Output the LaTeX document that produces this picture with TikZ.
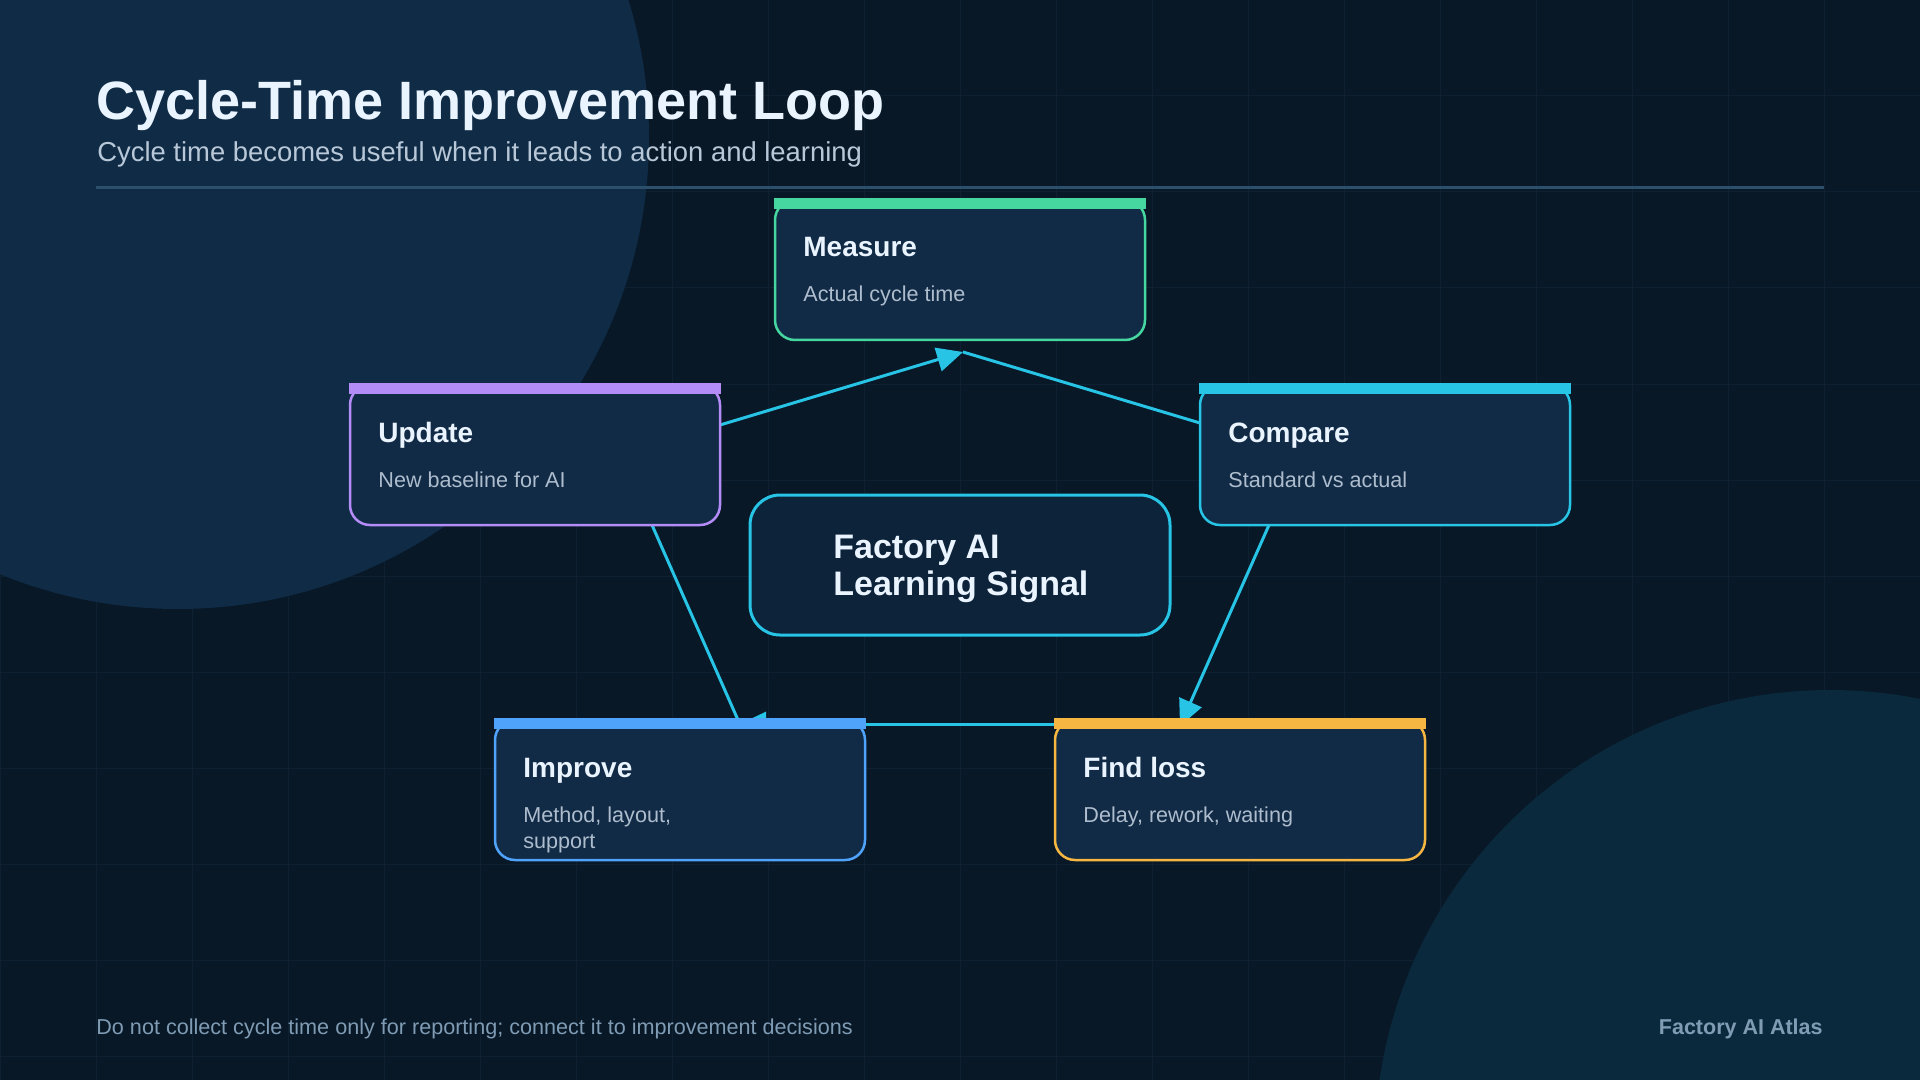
\documentclass[tikz,border=0pt]{standalone}
\usepackage{fontspec}
\setmainfont{Liberation Sans}
\usetikzlibrary{arrows.meta,calc}

\definecolor{bgcol}{HTML}{081827}
\definecolor{gridcol}{HTML}{0D2133}
\definecolor{blobcol}{HTML}{0F2B45}
\definecolor{blobcolb}{HTML}{0A293D}
\definecolor{rulecol}{HTML}{2C4F6B}
\definecolor{boxfill}{HTML}{112A45}
\definecolor{hubfill}{HTML}{0D233A}
\definecolor{titlecol}{HTML}{EAF4FF}
\definecolor{subcol}{HTML}{ADBDCD}
\definecolor{headcol}{HTML}{B8C8D8}
\definecolor{footcol}{HTML}{7F9CB4}
\definecolor{flowcol}{HTML}{27C4E6}
\definecolor{measurecol}{HTML}{46D69F}
\definecolor{comparecol}{HTML}{27C4E6}
\definecolor{findcol}{HTML}{F5B642}
\definecolor{improvecol}{HTML}{50A3FB}
\definecolor{updatecol}{HTML}{B48CF7}

\pgfdeclarelayer{back}
\pgfdeclarelayer{wires}
\pgfsetlayers{back,wires,main}

\tikzset{
  stepbox/.style={draw, line width=1.25pt, rounded corners=10pt, fill=boxfill,
    minimum width=185pt, minimum height=70pt, inner sep=0pt, outer sep=0pt},
  boxtitle/.style={anchor=base west, inner sep=0pt, text=titlecol,
    font=\fontsize{14}{17}\selectfont\bfseries},
  boxsub/.style={anchor=base west, inner sep=0pt, text=subcol, align=left,
    font=\fontsize{10.8}{13}\selectfont},
  flow/.style={draw=flowcol, line width=1.5pt},
  flowtip/.style={flow, -{Triangle[length=13pt,width=12pt]}},
}

\begin{document}
\begin{tikzpicture}[x=0.5pt,y=0.5pt,yscale=-1,xscale=1]
\useasboundingbox (0,0) rectangle (1920,1080);

\begin{pgfonlayer}{back}
%Background and grid
\fill [bgcol] (0,0) rectangle (1920,1080);
\draw [gridcol, line width=0.5pt] (0,0) grid [step=48pt] (1920,1080);
\begin{scope}
\clip (0,0) rectangle (1920,1080);
%Shape: Circle
\fill [blobcol] (178,138) circle [radius=471];
%Shape: Circle
\fill [blobcolb] (1830,1145) circle [radius=455];
\end{scope}
%Straight Lines
\draw [rulecol, line width=1.5pt] (96,188) -- (1824,188);
\end{pgfonlayer}

%Shape: Rounded Rect
\node [stepbox, draw=measurecol] (measure) at (960,270) {};
\node [stepbox, draw=comparecol] (compare) at (1385,455) {};
\node [stepbox, draw=findcol] (findloss) at (1240,790) {};
\node [stepbox, draw=improvecol] (improve) at (680,790) {};
\node [stepbox, draw=updatecol] (update) at (535,455) {};
%Shape: Rounded Rect
\node [stepbox, draw=flowcol, fill=hubfill, line width=1.5pt, rounded corners=15pt,
  minimum width=210pt] (hub) at (960,565) {};

%Shape: Rectangle
\fill [measurecol] ($(measure.north west)+(-1,-2)$) rectangle ($(measure.north east)+(1,9)$);
\fill [comparecol] ($(compare.north west)+(-1,-2)$) rectangle ($(compare.north east)+(1,9)$);
\fill [findcol] ($(findloss.north west)+(-1,-2)$) rectangle ($(findloss.north east)+(1,9)$);
\fill [improvecol] ($(improve.north west)+(-1,-2)$) rectangle ($(improve.north east)+(1,9)$);
\fill [updatecol] ($(update.north west)+(-1,-2)$) rectangle ($(update.north east)+(1,9)$);

\begin{pgfonlayer}{wires}
%Straight Lines
\draw [flowtip] ($(update.north east)+(0,40)$) -- ($(measure.south)+(3,12)$);
\draw [flow] ($(measure.south)+(3,12)$) -- ($(compare.north west)+(0,38)$);
\draw [flowtip] ($(compare.south west)+(69,0)$) -- ($(findloss.north west)+(125,6)$);
\draw [flowtip] ($(findloss.north west)+(0,4)$) -- ($(improve.north west)+(245,4)$);
\draw [flow] ($(improve.north west)+(243,0)$) -- ($(update.south west)+(302,0)$);
\end{pgfonlayer}

% Text Node
\node [boxtitle] (measure-t) at ($(measure.north west)+(28,57)$) {Measure};
\node [boxsub] (measure-s) at ($(measure.north west)+(28,102)$) {Actual cycle time};
% Text Node
\node [boxtitle] (compare-t) at ($(compare.north west)+(28,57)$) {Compare};
\node [boxsub] (compare-s) at ($(compare.north west)+(28,102)$) {Standard vs actual};
% Text Node
\node [boxtitle] (findloss-t) at ($(findloss.north west)+(28,57)$) {Find loss};
\node [boxsub] (findloss-s) at ($(findloss.north west)+(28,102)$) {Delay, rework, waiting};
% Text Node
\node [boxtitle] (improve-t) at ($(improve.north west)+(28,57)$) {Improve};
\node [boxsub] (improve-s) at ($(improve.north west)+(28,128)$) {Method, layout,\\support};
% Text Node
\node [boxtitle] (update-t) at ($(update.north west)+(28,57)$) {Update};
\node [boxsub] (update-s) at ($(update.north west)+(28,102)$) {New baseline for AI};
% Text Node
\node [anchor=base west, inner sep=0pt, align=left, text=titlecol,
  font=\fontsize{17}{18.5}\selectfont\bfseries] (hub-t) at (833,595) {Factory AI\\Learning Signal};

% Text Node
\node [anchor=base west, inner sep=0pt, text=titlecol,
  font=\fontsize{27}{32}\selectfont\bfseries] (title) at (96,120) {Cycle-Time Improvement Loop};
% Text Node
\node [anchor=base west, inner sep=0pt, text=headcol,
  font=\fontsize{13.7}{16}\selectfont] (subtitle) at (97,162) {Cycle time becomes useful when it leads to action and learning};
% Text Node
\node [anchor=base west, inner sep=0pt, text=footcol,
  font=\fontsize{10.8}{13}\selectfont] (footnote) at (96,1034) {Do not collect cycle time only for reporting; connect it to improvement decisions};
% Text Node
\node [anchor=base east, inner sep=0pt, text=footcol,
  font=\fontsize{10.75}{13}\selectfont\bfseries] (brand) at (1823,1034) {Factory AI Atlas};
\end{tikzpicture}
\end{document}
